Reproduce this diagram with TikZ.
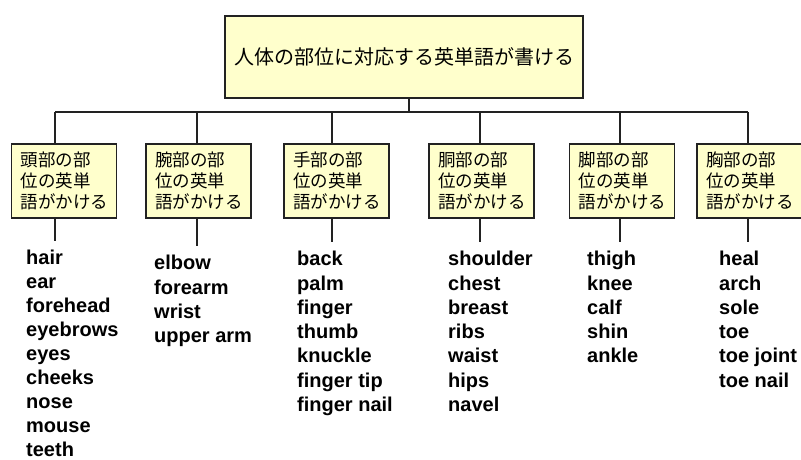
\documentclass[tikz,border=0pt]{standalone}
\usepackage{fontspec}
\setmainfont{Liberation Sans}
\newfontfamily\jp{Noto Sans CJK JP}
\definecolor{boxfill}{HTML}{FFFFCC}
\definecolor{edge}{HTML}{222222}
\begin{document}
\begin{tikzpicture}[x=1pt,y=-1pt,
  topbox/.style={draw=edge, line width=1.3pt, fill=boxfill, minimum width=358pt, minimum height=82pt, inner sep=0pt, font=\jp\fontsize{20}{24}\selectfont},
  catbox/.style={draw=edge, line width=1.3pt, fill=boxfill, minimum width=105pt, minimum height=74pt, text width=87pt, inner xsep=9pt, inner ysep=0pt, align=left, font=\jp\fontsize{17.5}{21}\selectfont},
  wordlist/.style={anchor=north west, inner xsep=0pt, inner ysep=9pt, align=left, text=black, font=\bfseries\fontsize{20}{24.3}\selectfont},
  link/.style={draw=edge, line width=1.3pt}]
\path[use as bounding box, clip] (0,0) rectangle (801,459);

\node[topbox] (top) at (404,57) {人体の部位に対応する英単語が書ける};

\node[catbox] (c1) at (64,181) {頭部の部\\位の英単\\語がかける};
\node[catbox] (c2) at (198.5,181) {腕部の部\\位の英単\\語がかける};
\node[catbox] (c3) at (336.5,181) {手部の部\\位の英単\\語がかける};
\node[catbox] (c4) at (481.5,181) {胴部の部\\位の英単\\語がかける};
\node[catbox] (c5) at (622,181) {脚部の部\\位の英単\\語がかける};
\node[catbox] (c6) at (749.5,181) {胸部の部\\位の英単\\語がかける};

\node[wordlist, font=\bfseries\fontsize{20}{24}\selectfont] (l1) at (26,241) {hair\\ear\\forehead\\eyebrows\\eyes\\cheeks\\nose\\mouse\\teeth};
\node[wordlist] (l2) at (154,246) {elbow\\forearm\\wrist\\upper arm};
\node[wordlist] (l3) at (297,242) {back\\palm\\finger\\thumb\\knuckle\\finger tip\\finger nail};
\node[wordlist] (l4) at (448,242) {shoulder\\chest\\breast\\ribs\\waist\\hips\\navel};
\node[wordlist] (l5) at (587,242) {thigh\\knee\\calf\\shin\\ankle};
\node[wordlist] (l6) at (719,242) {heal\\arch\\sole\\toe\\toe joint\\toe nail};

\coordinate (t) at (409,112);
\coordinate (d1) at (55,112);
\coordinate (d2) at (197,112);
\coordinate (d3) at (332,112);
\coordinate (d4) at (480,112);
\coordinate (d5) at (620,112);
\coordinate (d6) at (748,112);

\draw[link] (top.south -| t) -- (t);
\draw[link] (d1) -- (d6);
\foreach \i in {1,...,6}{
  \draw[link] (d\i) -- (d\i |- c\i.north);
  \draw[link] (d\i |- c\i.south) -- (d\i |- l\i.north);
}
\end{tikzpicture}
\end{document}
